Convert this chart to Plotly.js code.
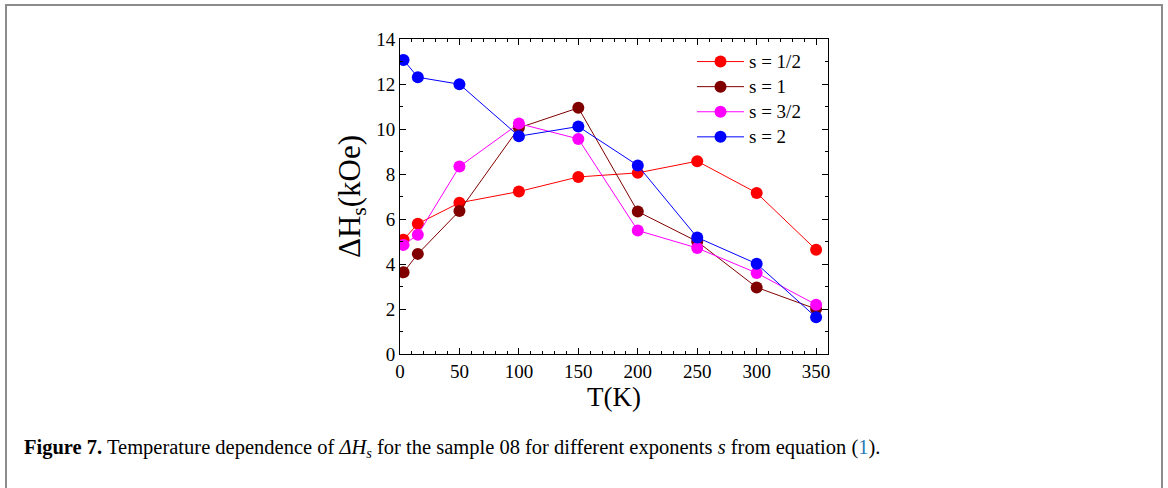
<!DOCTYPE html>
<html>
<head>
<meta charset="utf-8">
<script src="https://cdn.plot.ly/plotly-3.0.1.min.js"></script>
<style>
html,body{margin:0;padding:0;background:#fff;}
#chart{width:1168px;height:488px;}
</style>
</head>
<body>
<div id="chart"></div>
<script>
// Data
var T = [3, 15, 50, 100, 150, 200, 250, 300, 350];
var seriesNames = ["s = 1/2", "s = 1", "s = 3/2", "s = 2"];
var sHalf = [5.08, 5.79, 6.72, 7.22, 7.87, 8.05, 8.57, 7.16, 4.63];
var sOne = [3.63, 4.45, 6.36, 10.05, 10.94, 6.33, 5.0, 2.96, 2.0];
var sThreeHalf = [4.85, 5.30, 8.33, 10.24, 9.56, 5.49, 4.71, 3.60, 2.19];
var sTwo = [13.07, 12.30, 11.99, 9.68, 10.11, 8.38, 5.18, 4.01, 1.63];
var seriesColors = ["#ff0000", "#800000", "#ff00ff", "#0000ff"];
var xTicks = [0, 50, 100, 150, 200, 250, 300, 350];
var yTicks = [0, 2, 4, 6, 8, 10, 12, 14];

var ys = [sHalf, sOne, sThreeHalf, sTwo];
var traces = ys.map(function (y, i) {
  return {
    x: T, y: y, type: "scatter", mode: "lines+markers",
    name: "<span style='font-size:19px'>" + seriesNames[i] + "</span>",
    line: {color: seriesColors[i], width: 1},
    marker: {color: seriesColors[i], size: 12, line: {width: 0}}
  };
});

var serif = "Liberation Serif";
var L = 400, R = 828, TOP = 39, BOT = 354;
function px(p) { return (p - L) / (R - L); }
function py(p) { return (BOT - p) / (BOT - TOP); }

var axisCommon = {
  showline: true, linecolor: "#000", linewidth: 1, mirror: "allticks",
  ticks: "inside", ticklen: 6, tickwidth: 1, tickcolor: "#000",
  showgrid: false, zeroline: false,
  tickfont: {family: serif, size: 19, color: "#000"}
};

var layout = {
  width: 1168, height: 488,
  margin: {l: L, r: 1168 - R, t: TOP, b: 488 - BOT},
  paper_bgcolor: "#fff", plot_bgcolor: "#fff",
  showlegend: true,
  xaxis: Object.assign({}, axisCommon, {
    range: [0, 360], tickvals: xTicks, ticktext: xTicks.map(String),
    minor: {dtick: 10, ticks: "inside", ticklen: 3, tickwidth: 1, tickcolor: "#000", showgrid: false},
    title: {text: "T(K)", font: {family: serif, size: 27, color: "#000"}, standoff: 5}
  }),
  yaxis: Object.assign({}, axisCommon, {
    range: [0, 14], tickvals: yTicks, ticktext: yTicks.map(String),
    minor: {dtick: 1, ticks: "inside", ticklen: 3, tickwidth: 1, tickcolor: "#000", showgrid: false},
    title: {text: "ΔH<sub>s</sub>(kOe)", font: {family: serif, size: 31, color: "#000"}, standoff: 6}
  }),
  legend: {
    x: px(692), y: py(44), xanchor: "left", yanchor: "top",
    bgcolor: "rgba(0,0,0,0)", borderwidth: 0,
    font: {family: serif, size: 17, color: "#000"},
    itemwidth: 47, tracegroupgap: 0
  },
  shapes: [
    {type: "path", xref: "paper", yref: "paper",
     path: "M " + px(6) + " " + py(520) + " L " + px(6) + " " + py(5) + " L " + px(1162) + " " + py(5) + " L " + px(1162) + " " + py(520),
     line: {color: "#8c8c8c", width: 2}, layer: "below"}
  ],
  annotations: [
    {xref: "paper", yref: "paper", x: px(22), y: py(448), xanchor: "left", yanchor: "middle",
     showarrow: false, align: "left",
     font: {family: serif, size: 20.5, color: "#000"},
     text: "<b>Figure 7.</b> Temperature dependence of <i>ΔH<sub>s</sub></i> for the sample 08 for different exponents <i>s</i> from equation (<span style='color:#2a7ab8'>1</span>)."}
  ]
};

Plotly.newPlot("chart", traces, layout, {displayModeBar: false, staticPlot: true});
</script>
</body>
</html>
